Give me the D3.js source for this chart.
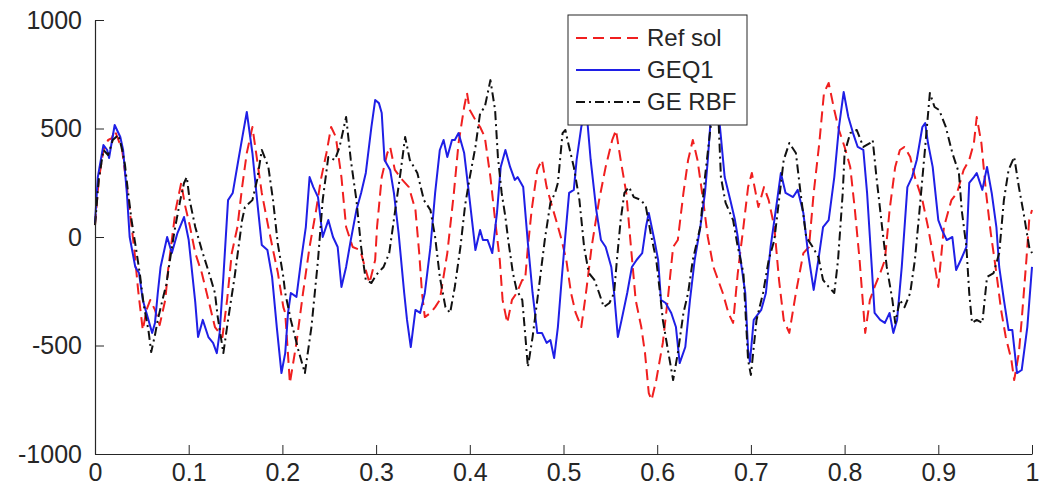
<!DOCTYPE html>
<html>
<head>
<meta charset="utf-8">
<script src="https://cdn.jsdelivr.net/npm/d3@7"></script>
<style>
  body { margin: 0; background: #fff; }
  text { font-family: Arial, "Liberation Sans", sans-serif; }
</style>
</head>
<body>
<div id="chart"></div>
<script>
// series data
const refX = [0,.004,.009,.014,.018,.021,.025,.029,.033,.037,.042,.046,.051,.055,.059,.064,.069,.075,.078,.082,.086,.092,.096,.101,.107,.114,.121,.128,.136,.141,.146,.152,.157,.162,.168,.173,.178,.185,.190,.195,.201,.203,.208,.215,.222,.229,.236,.241,.247,.252,.257,.263,.268,.275,.283,.288,.293,.299,.301,.306,.312,.315,.320,.328,.335,.342,.346,.349,.352,.358,.363,.368,.376,.383,.388,.394,.397,.400,.406,.411,.416,.422,.427,.432,.435,.440,.445,.450,.456,.459,.462,.466,.472,.477,.482,.488,.493,.498,.503,.508,.513,.519,.524,.530,.538,.545,.552,.556,.561,.567,.572,.577,.583,.587,.591,.594,.599,.606,.612,.617,.622,.628,.633,.638,.643,.649,.654,.660,.665,.670,.676,.681,.686,.692,.697,.701,.708,.714,.719,.725,.730,.735,.741,.748,.756,.762,.767,.773,.778,.783,.789,.794,.800,.806,.811,.816,.822,.827,.832,.838,.843,.848,.854,.859,.864,.870,.875,.883,.889,.894,.900,.906,.914,.920,.927,.933,.938,.941,.946,.951,.956,.962,.967,.972,.978,.981,.986,.989,.994,.997,1]
const refY = [55,263,401,447,456,493,447,401,263,124,-60,-244,-429,-336,-290,-336,-406,-290,-152,-14,124,249,147,55,-74,-166,-290,-415,-461,-290,-74,46,230,387,507,355,203,46,-60,-161,-323,-350,-673,-488,-258,-46,124,263,387,507,461,276,46,-46,-60,-138,-212,-106,46,276,387,415,309,263,230,124,-74,-258,-369,-350,-323,-290,-74,203,433,599,664,585,539,507,461,276,78,-106,-290,-396,-290,-258,-198,-198,-46,124,309,355,230,138,65,-14,-106,-258,-350,-415,-258,-46,170,323,447,493,355,203,-46,-290,-415,-535,-719,-751,-659,-488,-258,-46,-14,203,355,447,355,170,0,-138,-198,-258,-350,-396,-166,46,230,295,138,230,170,46,-198,-382,-442,-258,-74,-46,203,433,664,710,585,493,415,323,124,-106,-442,-290,-230,-166,-106,124,323,401,415,369,276,170,46,-74,-230,46,170,203,309,355,433,553,433,203,18,-166,-336,-461,-567,-659,-535,-382,-106,78,124]

const geqX = [0,.003,.009,.013,.015,.021,.027,.030,.034,.037,.043,.047,.051,.057,.061,.064,.067,.070,.077,.082,.088,.095,.100,.107,.110,.115,.121,.126,.130,.133,.137,.142,.147,.153,.158,.162,.168,.173,.178,.184,.189,.194,.199,.203,.206,.209,.215,.220,.225,.229,.233,.238,.243,.249,.254,.259,.263,.268,.273,.279,.284,.289,.295,.299,.303,.306,.309,.315,.319,.324,.330,.333,.337,.342,.347,.352,.358,.363,.368,.372,.376,.381,.384,.388,.394,.399,.406,.411,.414,.419,.424,.429,.433,.438,.443,.448,.451,.457,.462,.467,.472,.477,.482,.486,.490,.494,.498,.502,.506,.511,.514,.519,.524,.529,.535,.540,.545,.551,.554,.558,.562,.568,.573,.578,.584,.588,.591,.597,.601,.604,.609,.615,.620,.624,.630,.635,.640,.646,.651,.654,.657,.662,.667,.672,.678,.683,.686,.689,.694,.697,.699,.703,.711,.716,.721,.727,.732,.737,.745,.750,.756,.761,.767,.772,.777,.783,.789,.794,.799,.804,.809,.814,.820,.824,.829,.832,.838,.843,.848,.852,.856,.861,.867,.872,.877,.883,.886,.889,.894,.900,.904,.909,.915,.919,.924,.930,.933,.938,.941,.947,.952,.957,.962,.965,.970,.975,.979,.984,.989,.995,1]
const geqY = [65,276,424,401,364,516,461,401,203,0,-138,-166,-290,-382,-442,-396,-258,-138,0,-74,18,92,-14,-300,-461,-382,-461,-488,-535,-442,-184,170,203,355,479,576,387,170,-37,-60,-184,-415,-627,-535,-350,-258,-276,-106,46,276,230,184,0,78,0,-46,-230,-138,-14,124,203,295,507,631,617,571,355,309,203,18,-258,-382,-507,-336,-350,-258,-46,203,401,447,369,447,447,479,387,203,-60,32,-14,-14,-74,111,323,401,323,263,276,230,-28,-258,-442,-442,-488,-475,-558,-415,-198,9,203,217,355,507,608,355,124,-14,-46,-138,-258,-461,-382,-258,-138,-106,-74,46,111,-14,-106,-290,-304,-350,-415,-581,-507,-290,-106,46,203,355,539,654,507,276,170,78,0,-106,-258,-521,-576,-382,-336,-258,-46,138,295,203,184,217,111,-74,-244,-106,46,78,276,507,668,553,479,415,401,203,-138,-350,-382,-396,-350,-442,-382,-138,230,276,355,507,525,433,323,78,32,-14,0,-152,-106,-46,249,276,295,217,323,203,46,-138,-290,-429,-429,-627,-613,-415,-138]

const rbfX = [0,.004,.009,.014,.019,.025,.029,.032,.035,.039,.044,.048,.052,.057,.060,.064,.067,.072,.076,.080,.085,.091,.095,.098,.101,.107,.114,.123,.128,.131,.137,.142,.149,.157,.160,.168,.173,.178,.185,.190,.195,.201,.203,.209,.217,.224,.231,.238,.243,.249,.256,.261,.268,.273,.279,.284,.289,.295,.300,.308,.314,.320,.326,.331,.336,.344,.351,.358,.363,.368,.374,.379,.384,.390,.395,.400,.406,.411,.416,.422,.427,.430,.434,.438,.441,.446,.450,.456,.459,.462,.467,.473,.480,.486,.491,.494,.499,.502,.505,.511,.517,.522,.527,.533,.538,.543,.549,.554,.557,.561,.565,.570,.575,.583,.588,.593,.599,.603,.606,.612,.617,.622,.628,.633,.638,.646,.651,.657,.661,.665,.668,.673,.681,.686,.692,.697,.700,.706,.713,.719,.725,.730,.735,.741,.748,.753,.759,.766,.772,.777,.783,.789,.793,.798,.800,.806,.813,.820,.827,.830,.834,.840,.845,.851,.854,.859,.864,.870,.875,.880,.886,.891,.896,.901,.908,.915,.922,.925,.930,.933,.936,.941,.947,.952,.959,.965,.970,.975,.981,.986,.991,.997,1]
const rbfY = [55,263,401,378,447,470,401,332,217,78,-60,-175,-313,-429,-530,-452,-382,-290,-221,-106,32,170,249,276,170,46,-60,-184,-258,-369,-535,-382,-184,78,138,170,263,401,323,170,-28,-184,-258,-382,-521,-627,-415,-106,170,369,355,415,553,355,170,-46,-198,-212,-175,-138,-74,111,295,461,355,295,170,124,0,-184,-323,-350,-230,-46,147,276,415,571,599,723,585,369,203,92,-14,-166,-244,-290,-442,-599,-461,-258,-14,157,203,249,479,493,433,323,170,-46,-166,-198,-258,-323,-304,-258,-106,78,203,230,184,170,138,18,-106,-258,-382,-535,-659,-535,-350,-258,-106,46,276,507,654,585,276,157,78,-46,-166,-567,-636,-382,-258,-106,-14,170,355,433,387,203,0,-46,-92,-198,-230,-258,-106,203,387,479,493,415,433,447,276,46,-138,-290,-396,-290,-323,-258,-106,124,415,664,599,585,507,387,295,124,-46,-258,-396,-382,-396,-184,-166,-74,170,309,369,230,111,-46,-74]

const yTicks = [-1000, -500, 0, 500, 1000]
const xTicks = [0, 0.1, 0.2, 0.3, 0.4, 0.5, 0.6, 0.7, 0.8, 0.9, 1]
const seriesNames = ["Ref sol", "GEQ1", "GE RBF"]

const WIDTH = 1039, HEIGHT = 503
const PLOT = {LEFT: 95, RIGHT: 1032, TOP: 20, BOTTOM: 454}
const AXIS_COLOUR = "#262626"

const svg = d3.select("#chart").append("svg")
    .attr("width", WIDTH)
    .attr("height", HEIGHT)

const x = d3.scaleLinear().domain([0, 1]).range([PLOT.LEFT, PLOT.RIGHT])
const y = d3.scaleLinear().domain([-1000, 1000]).range([PLOT.BOTTOM, PLOT.TOP])

// the three series, with their line styles
const series = [
    {name: seriesNames[0], xs: refX, ys: refY, colour: "#f01f1f", dash: "11,6",    width: 2},
    {name: seriesNames[1], xs: geqX, ys: geqY, colour: "#1f1fe6", dash: null,      width: 2},
    {name: seriesNames[2], xs: rbfX, ys: rbfY, colour: "#111111", dash: "9,4,2,4", width: 2}
]

const line = d3.line()
    .x(d => x(d[0]))
    .y(d => y(d[1]))

svg.append("g")
    .selectAll("path")
    .data(series)
    .join("path")
    .attr("d", s => line(s.xs.map((v, i) => [v, s.ys[i]])))
    .attr("fill", "none")
    .attr("stroke", s => s.colour)
    .attr("stroke-width", s => s.width)
    .attr("stroke-dasharray", s => s.dash)
    .attr("stroke-linejoin", "round")

// axes, ticks point into the plot; plain hyphen for negatives like the original
const yAxis = svg.append("g")
    .attr("transform", `translate(${PLOT.LEFT},0)`)
    .call(d3.axisLeft(y).tickValues(yTicks).tickSizeInner(-9).tickSizeOuter(0).tickPadding(13).tickFormat(d => String(d)))
const xAxis = svg.append("g")
    .attr("transform", `translate(0,${PLOT.BOTTOM})`)
    .call(d3.axisBottom(x).tickValues(xTicks).tickSizeInner(-9).tickSizeOuter(0).tickPadding(9).tickFormat(d => String(d)))

for (const ax of [xAxis, yAxis]) {
    ax.select(".domain").attr("stroke", AXIS_COLOUR).attr("stroke-width", 1.2)
    ax.selectAll(".tick line").attr("stroke", AXIS_COLOUR)
    ax.selectAll(".tick text")
        .attr("fill", AXIS_COLOUR)
        .style("font-size", "25px")
}

// legend box
const legend = svg.append("g").attr("transform", "translate(568,15)")
legend.append("rect")
    .attr("width", 179)
    .attr("height", 110)
    .attr("fill", "#fff")
    .attr("stroke", AXIS_COLOUR)
    .attr("stroke-width", 1)

const rows = legend.selectAll("g.row")
    .data(series)
    .join("g")
    .attr("class", "row")
    .attr("transform", (d, i) => `translate(0,${23 + i * 32})`)

rows.append("line")
    .attr("x1", 8).attr("x2", 72)
    .attr("stroke", d => d.colour)
    .attr("stroke-width", d => d.width)
    .attr("stroke-dasharray", d => d.dash)

rows.append("text")
    .attr("x", 79)
    .attr("dy", "0.35em")
    .attr("fill", AXIS_COLOUR)
    .style("font-size", "24px")
    .text(d => d.name)
</script>
</body>
</html>
